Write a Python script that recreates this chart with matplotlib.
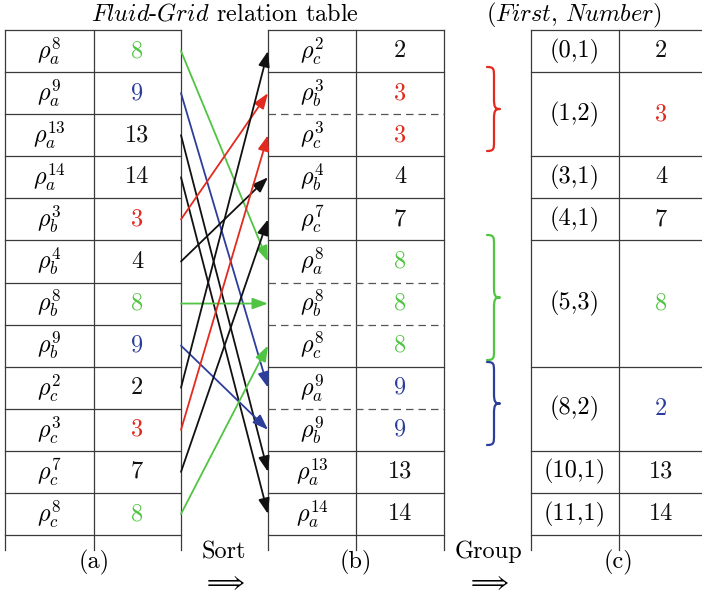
import matplotlib.pyplot as plt
from matplotlib.path import Path
from matplotlib.patches import PathPatch

plt.rcParams['font.family'] = 'cmr10'
plt.rcParams['mathtext.fontset'] = 'cm'
plt.rcParams['axes.unicode_minus'] = False

GREEN = '#52c443'
BLUE = '#2c3e9c'
RED = '#e22a1f'
BLACK = '#111111'
num_color = {3: RED, 8: GREEN, 9: BLUE}

# table (a): fluid-grid relation table
a_letters = ['a', 'a', 'a', 'a', 'b', 'b', 'b', 'b', 'c', 'c', 'c', 'c']
a_numbers = [8, 9, 13, 14, 3, 4, 8, 9, 2, 3, 7, 8]
# table (b): sorted by grid number
b_letters = ['c', 'b', 'c', 'b', 'c', 'a', 'b', 'c', 'a', 'b', 'a', 'a']
b_numbers = [2, 3, 3, 4, 7, 8, 8, 8, 9, 9, 13, 14]
# row in (b) that every row of (a) moves to
sort_target = [5, 8, 10, 11, 1, 3, 6, 9, 0, 2, 4, 7]
# table (c): groups (first, number) -> grid
c_first = ['(0,1)', '(1,2)', '(3,1)', '(4,1)', '(5,3)', '(8,2)', '(10,1)', '(11,1)']
c_span = [1, 2, 1, 1, 3, 2, 1, 1]
c_value = [2, 3, 4, 7, 8, 2, 13, 14]
c_color = [BLACK, RED, BLACK, BLACK, GREEN, BLUE, BLACK, BLACK]

top, bottom = 30, 535
rh = (bottom - top) / 12
fs = 17.5
lc = '#3a3a3a'


def row_y(i):
    return top + (i + 0.5) * rh


fig = plt.figure(figsize=(7.02, 5.94), dpi=100)
ax = fig.add_axes([0, 0, 1, 1])
ax.set_xlim(0, 702)
ax.set_ylim(594, 0)
ax.axis('off')

# table grids
for x in [5, 94, 181, 268, 356, 444, 531, 619]:
    ax.plot([x, x], [top, 550], color=lc, lw=0.9)
for i in range(13):
    y = top + i * rh
    ax.plot([5, 181], [y, y], color=lc, lw=0.9)
    if i in (0, 1, 3, 4, 5, 8, 10, 11, 12):
        ax.plot([268, 444], [y, y], color=lc, lw=0.9)
    else:
        ax.plot([268, 444], [y, y], color='#555555', lw=0.9, ls=(0, (6, 4)))

edges = [0]
for s in c_span:
    edges.append(edges[-1] + s)
for e in edges:
    y = top + e * rh
    ax.plot([531, 702], [y, y], color=lc, lw=0.9)

# cell texts
for i in range(12):
    ax.text(49, row_y(i), r'$\rho_{%s}^{%d}$' % (a_letters[i], a_numbers[i]),
            ha='center', va='center', fontsize=fs)
    ax.text(137, row_y(i), str(a_numbers[i]), ha='center', va='center',
            fontsize=fs, color=num_color.get(a_numbers[i], BLACK))
    ax.text(312, row_y(i), r'$\rho_{%s}^{%d}$' % (b_letters[i], b_numbers[i]),
            ha='center', va='center', fontsize=fs)
    ax.text(400, row_y(i), str(b_numbers[i]), ha='center', va='center',
            fontsize=fs, color=num_color.get(b_numbers[i], BLACK))

for k in range(len(c_first)):
    yc = top + (edges[k] + edges[k + 1]) / 2 * rh
    ax.text(575, yc, c_first[k], ha='center', va='center', fontsize=fs)
    ax.text(661, yc, str(c_value[k]), ha='center', va='center',
            fontsize=fs, color=c_color[k])

# sort arrows
for i in range(12):
    j = sort_target[i]
    col = num_color.get(a_numbers[i], BLACK)
    ax.annotate('', xy=(268, row_y(j)), xytext=(181, row_y(i)),
                arrowprops=dict(arrowstyle='-|>,head_length=0.55,head_width=0.2',
                                mutation_scale=17, color=col, lw=1.3,
                                shrinkA=0, shrinkB=0))


def brace(y1, y2, color, a=487, b=494, c=500, r=10):
    ym = (y1 + y2) / 2
    verts = [(a, y1), (b, y1), (b, y1 + 2), (b, y1 + r),
             (b, ym - r),
             (b, ym - 2), (b + 1, ym), (c, ym),
             (b + 1, ym), (b, ym + 2), (b, ym + r),
             (b, y2 - r),
             (b, y2 - 2), (b, y2), (a, y2)]
    codes = [Path.MOVETO, Path.CURVE4, Path.CURVE4, Path.CURVE4,
             Path.LINETO,
             Path.CURVE4, Path.CURVE4, Path.CURVE4,
             Path.CURVE4, Path.CURVE4, Path.CURVE4,
             Path.LINETO,
             Path.CURVE4, Path.CURVE4, Path.CURVE4]
    ax.add_patch(PathPatch(Path(verts, codes), fill=False, edgecolor=color,
                           lw=1.6, capstyle='round', joinstyle='round'))


brace(67, 151, RED)
brace(235, 360, GREEN)
brace(362, 445, BLUE)

# titles and labels
ax.text(225, 14, r'$\mathit{Fluid}$-$\mathit{Grid}$ relation table',
        ha='center', va='center', fontsize=fs)
ax.text(574, 15, r'$(\mathit{First},\,\mathit{Number})$',
        ha='center', va='center', fontsize=fs)
for x, lab in [(94, '(a)'), (356, '(b)'), (618, '(c)')]:
    ax.text(x, 562, lab, ha='center', va='center', fontsize=fs)
ax.text(224, 552, 'Sort', ha='center', va='center', fontsize=fs)
ax.text(488, 552, 'Group', ha='center', va='center', fontsize=fs)
ax.text(224, 583, r'$\Longrightarrow$', ha='center', va='center', fontsize=fs)
ax.text(488, 583, r'$\Longrightarrow$', ha='center', va='center', fontsize=fs)

fig.savefig('out.png', dpi=100)
